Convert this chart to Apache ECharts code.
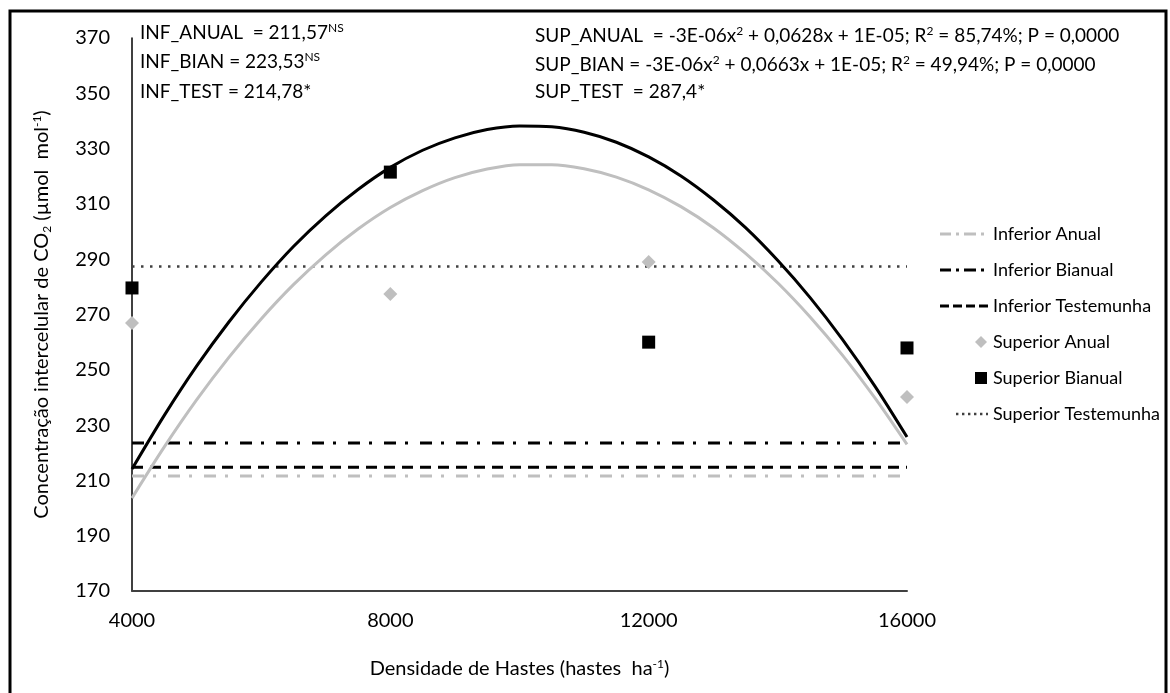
<!DOCTYPE html>
<html>
<head>
<meta charset="utf-8">
<script src="https://cdn.jsdelivr.net/npm/echarts@6/dist/echarts.min.js"></script>
<style>
  html, body { margin: 0; padding: 0; background: #fff; }
  #main { width: 1170px; height: 693px; }
</style>
</head>
<body>
<div id="main"></div>
<script>
// densidade de hastes (x) e pontos observados
var densidade = [4000, 8000, 12000, 16000];
var supAnual = [266.9, 277.4, 289.0, 240.2];
var supBianual = [279.6, 321.5, 260.0, 257.9];

// medias (linhas horizontais)
var infAnual = 211.57;
var infBian = 223.53;
var infTest = 214.78;
var supTest = 287.4;

// curvas de tendencia
var curvaX = [4000, 4500, 5000, 5500, 6000, 6500, 7000, 7500, 8000, 8500, 9000, 9500, 10000,
              10500, 11000, 11500, 12000, 12500, 13000, 13500, 14000, 14500, 15000, 15500, 16000];
var curvaAnual = [203.6, 222.1, 239.1, 254.5, 268.4, 280.8, 291.6, 300.9, 308.7, 314.8, 319.5, 322.6, 324.2,
                  324.2, 322.7, 319.7, 315.1, 309.0, 301.4, 292.1, 281.4, 269.1, 255.3, 239.9, 223.0];
var curvaBianual = [214.1, 233.5, 251.3, 267.3, 281.7, 294.6, 305.7, 315.2, 323.2, 329.4, 333.9, 336.9, 338.2,
                    337.9, 335.9, 332.3, 327.0, 320.1, 311.5, 301.4, 289.5, 276.1, 261.0, 244.2, 225.7];

var yMin = 170, yMax = 370, yStep = 20;
var xMin = 4000, xMax = 16000, xStep = 4000;

var FONT = 'Lato';
var GRAY = '#bfbfbf';

function fmt(v) { return String(v).replace('.', ','); }
function pares(xs, ys) { return xs.map(function (x, i) { return [x, ys[i]]; }); }
function horiz(v) { return [[xMin, v], [xMax, v]]; }

// icones da legenda (caixa 48x14, o primeiro M fixa o tamanho)
var BOX = 'path://M0,0 M48,14 ';
var icones = {
  tracoPonto: BOX + 'M0,5.5h11v3h-11z M16,5.5h3v3h-3z M24,5.5h12v3h-12z M41,5.5h3v3h-3z',
  tracejado: BOX + 'M0,5.5h9v3h-9z M13,5.5h9v3h-9z M26,5.5h9v3h-9z M39,5.5h9v3h-9z',
  pontilhado: BOX + 'M16,5.8h2.4v2.4h-2.4z M22,5.8h2.4v2.4h-2.4z M28,5.8h2.4v2.4h-2.4z M34,5.8h2.4v2.4h-2.4z M40,5.8h2.4v2.4h-2.4z M46,5.8h2v2.4h-2z',
  losango: BOX + 'M41,1 L47,7 L41,13 L35,7 Z',
  quadrado: BOX + 'M35,1h12v12h-12z'
};

var chart = echarts.init(document.getElementById('main'), null, { renderer: 'canvas' });

var supRich = {
  sup: { fontSize: 12, fontFamily: FONT, verticalAlign: 'top', lineHeight: 22 },
  sub: { fontSize: 12, fontFamily: FONT, verticalAlign: 'bottom', lineHeight: 22 }
};

function texto(x, y, txt) {
  return {
    type: 'text', left: x, top: y, z: 100,
    style: { text: txt, fontSize: 19, fontFamily: FONT, fill: '#000', rich: supRich }
  };
}

var option = {
  backgroundColor: '#ffffff',
  animation: false,
  textStyle: { fontFamily: FONT },
  grid: { left: 132, right: 263, top: 38, bottom: 102, containLabel: false },
  xAxis: {
    type: 'value', min: xMin, max: xMax, interval: xStep,
    name: 'Densidade de Hastes (hastes  ha{sup|-1})',
    nameLocation: 'middle', nameGap: 67,
    nameTextStyle: { fontSize: 20, color: '#000', fontFamily: FONT, rich: supRich },
    axisLine: { show: true, lineStyle: { color: '#404040', width: 2 } },
    axisTick: { show: false },
    splitLine: { show: false },
    axisLabel: { fontSize: 20, color: '#000', margin: 20, formatter: function (v) { return String(v); } }
  },
  yAxis: {
    type: 'value', min: yMin, max: yMax, interval: 10,
    name: 'Concentração intercelular de CO{sub|2} (µmol  mol{sup|-1})',
    nameLocation: 'middle', nameGap: 79, nameRotate: 90,
    nameTextStyle: { fontSize: 20, color: '#000', fontFamily: FONT, rich: supRich },
    axisLine: { show: true, onZero: false, lineStyle: { color: '#000', width: 1.5 } },
    axisTick: { show: false },
    splitLine: { show: false },
    axisLabel: {
      fontSize: 20, color: '#000', margin: 22,
      formatter: function (v) { return (v - yMin) % yStep === 0 ? String(v) : ''; }
    }
  },
  legend: {
    orient: 'vertical', left: 935, top: 220,
    itemWidth: 48, itemHeight: 14, itemGap: 18,
    symbolKeepAspect: true,
    textStyle: { fontSize: 18, color: '#000', fontFamily: FONT },
    data: [
      { name: 'Inferior Anual', icon: icones.tracoPonto },
      { name: 'Inferior Bianual', icon: icones.tracoPonto },
      { name: 'Inferior Testemunha', icon: icones.tracejado },
      { name: 'Superior Anual', icon: icones.losango },
      { name: 'Superior Bianual', icon: icones.quadrado },
      { name: 'Superior Testemunha', icon: icones.pontilhado }
    ]
  },
  graphic: [
    {
      type: 'rect', z: 100, silent: true,
      shape: { x: 10, y: 11, width: 1156, height: 700 },
      style: { fill: 'none', stroke: '#000', lineWidth: 3 }
    },
    texto(140, 22, 'INF_ANUAL  = ' + fmt(infAnual) + '{sup|NS}'),
    texto(140, 51, 'INF_BIAN = ' + fmt(infBian) + '{sup|NS}'),
    texto(140, 82, 'INF_TEST = ' + fmt(infTest) + '*'),
    texto(535, 25, 'SUP_ANUAL  = -3E-06x{sup|2} + 0,0628x + 1E-05; R{sup|2} = 85,74%; P = 0,0000'),
    texto(535, 54, 'SUP_BIAN = -3E-06x{sup|2} + 0,0663x + 1E-05; R{sup|2} = 49,94%; P = 0,0000'),
    texto(535, 82, 'SUP_TEST  = ' + fmt(supTest) + '*')
  ],
  series: [
    {
      name: 'Inferior Anual', type: 'line', data: horiz(infAnual), symbol: 'none',
      lineStyle: { color: GRAY, width: 3, type: [12, 9, 3, 12] }, itemStyle: { color: GRAY }
    },
    {
      name: 'Inferior Bianual', type: 'line', data: horiz(infBian), symbol: 'none',
      lineStyle: { color: '#000', width: 3, type: [12, 9, 3, 12] }, itemStyle: { color: '#000' }
    },
    {
      name: 'Inferior Testemunha', type: 'line', data: horiz(infTest), symbol: 'none',
      lineStyle: { color: '#000', width: 3, type: [11, 7] }, itemStyle: { color: '#000' }
    },
    {
      name: 'Superior Anual', type: 'scatter', data: pares(densidade, supAnual),
      symbol: 'diamond', symbolSize: 14,
      itemStyle: { color: GRAY, opacity: 1 }, z: 5
    },
    {
      name: 'Superior Bianual', type: 'scatter', data: pares(densidade, supBianual),
      symbol: 'rect', symbolSize: 13,
      itemStyle: { color: '#000', opacity: 1 }, z: 5
    },
    {
      name: 'Superior Testemunha', type: 'line', data: horiz(supTest), symbol: 'none',
      lineStyle: { color: '#404040', width: 2.5, type: [2.5, 6.5] }, itemStyle: { color: '#404040' }
    },
    {
      name: 'Tendência Anual', type: 'line', data: pares(curvaX, curvaAnual),
      symbol: 'none', smooth: 0.3, lineStyle: { color: GRAY, width: 3 }, z: 3
    },
    {
      name: 'Tendência Bianual', type: 'line', data: pares(curvaX, curvaBianual),
      symbol: 'none', smooth: 0.3, lineStyle: { color: '#000', width: 3 }, z: 4
    }
  ]
};

chart.setOption(option);
</script>
</body>
</html>
